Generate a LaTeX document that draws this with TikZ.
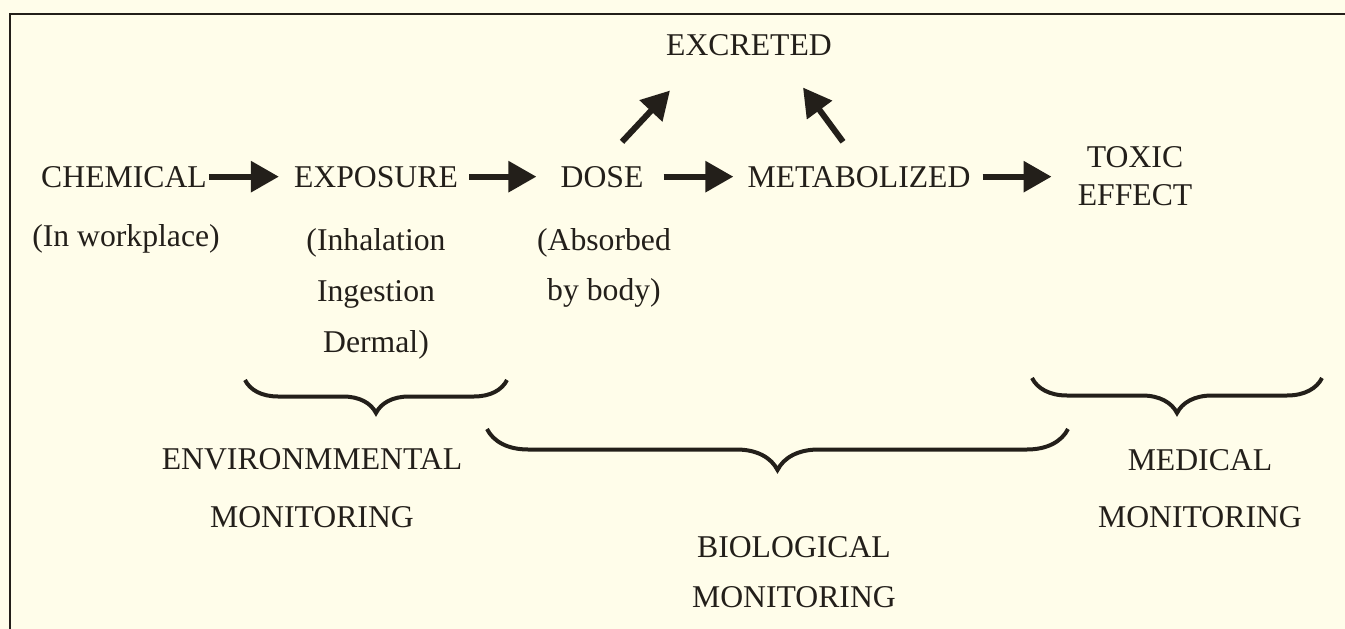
\documentclass[tikz,border=0pt]{standalone}
\usepackage{fontspec}
\setmainfont{Liberation Serif}
\usepackage{tikz}
\usetikzlibrary{arrows.meta,decorations.pathreplacing}

\begin{document}
\begin{tikzpicture}[x=1pt,y=-1pt,
  lbl/.style={font=\fontsize{31.7}{38}\selectfont, text=ink, inner sep=2pt, anchor=base},
  flow/.style={draw=ink, line width=6pt, -{Triangle[length=28pt,width=30pt]}},
  brc/.style={draw=ink, line width=4pt, decorate, decoration={brace,amplitude=#1}}]

% Colori
\definecolor{paper}{HTML}{FFFDEA}
\definecolor{ink}{HTML}{231F1A}

% Fondo e cornice
\fill[paper] (0,0) rectangle (1345,629);
\useasboundingbox (0,0) rectangle (1345,629);
\draw[ink, line width=2.5pt] (1345,14) -- (10,14) -- (10,629);

% Catena principale (base = ultima riga)
\node[lbl] (chem) at (124,187) {CHEMICAL};
\node[lbl] (expo) at (376,187) {EXPOSURE};
\node[lbl] (dose) at (602,187) {DOSE};
\node[lbl] (meta) at (859,187) {METABOLIZED};
\node[lbl, align=center] (tox) at (1135,205) {TOXIC\\EFFECT};
\node[lbl] (excr) at (749,55) {EXCRETED};

% Sottotitoli
\node[lbl] (work) at (126,246) {(In workplace)};
\node[lbl, align=center, font=\fontsize{31.7}{51}\selectfont] (route) at (376,352) {(Inhalation\\Ingestion\\Dermal)};
\node[lbl, align=center, font=\fontsize{31.7}{50}\selectfont] (absb) at (604,300) {(Absorbed\\by body)};

% Frecce
\draw[flow] (chem.east) -- ([xshift=-13pt]expo.west);
\draw[flow] ([xshift=9pt]expo.east) -- ([xshift=-22pt]dose.west);
\draw[flow] ([xshift=18pt]dose.east) -- ([xshift=-12pt]meta.west);
\draw[flow] ([xshift=10pt]meta.east) -- ([xshift=-24pt]meta.east -| tox.west);
\draw[flow] ([shift={(20,-22)}]dose.north) -- ([shift={(-79,33)}]excr.south);
\draw[flow] ([shift={(-16,-22)}]meta.north) -- ([shift={(54,30)}]excr.south);

% Parentesi graffe
\draw[brc=33pt] (507,380) -- (245,380);
\draw[brc=41pt] (1068,429) -- (487,429);
\draw[brc=35pt] (1322,378) -- (1032,378);

% Monitoraggi
\node[lbl, align=center, font=\fontsize{31.7}{58}\selectfont] (env) at (312,527) {ENVIRONMMENTAL\\MONITORING};
\node[lbl, align=center, font=\fontsize{31.7}{50}\selectfont] (bio) at (794,607) {BIOLOGICAL\\MONITORING};
\node[lbl, align=center, font=\fontsize{31.7}{57}\selectfont] (med) at (1200,527) {MEDICAL\\MONITORING};

\end{tikzpicture}
\end{document}
